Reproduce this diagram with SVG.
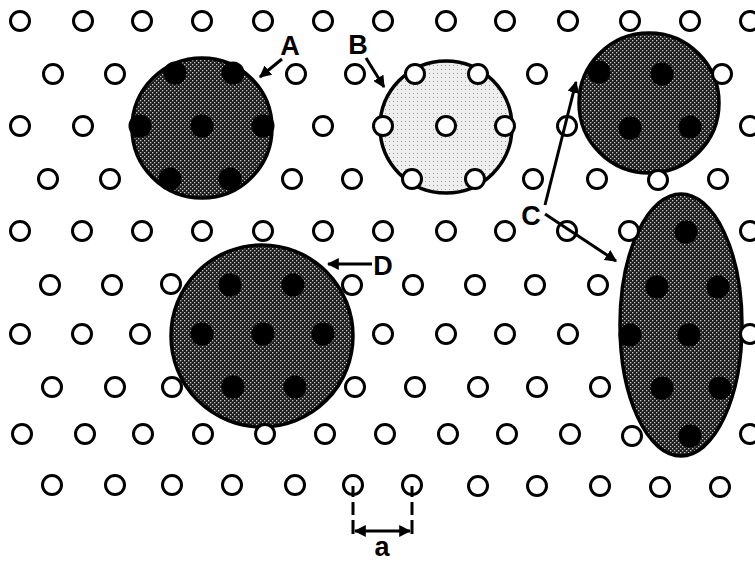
<svg xmlns="http://www.w3.org/2000/svg" width="755" height="561" viewBox="0 0 755 561">
<style>
.s{fill:#fff;stroke:#000;stroke-width:3}
.d{fill:#000}
.big{stroke:#000;stroke-width:3.5}
.lab{font-family:"Liberation Sans",Arial,sans-serif;font-weight:bold;font-size:27px;fill:#000}
.ln{stroke:#000;stroke-width:3;fill:none}
</style>
<defs>
<pattern id="dk" width="4" height="4" patternUnits="userSpaceOnUse">
<rect width="4" height="4" fill="#1c1c1c"/>
<rect x="0" y="0" width="1.3" height="1.3" fill="#c8c8c8"/>
<rect x="2" y="2" width="1.3" height="1.3" fill="#c8c8c8"/>
</pattern>
<pattern id="lt" width="4" height="4" patternUnits="userSpaceOnUse">
<rect width="4" height="4" fill="#eeeeee"/>
<rect x="1" y="1" width="1" height="1" fill="#9a9a9a"/>
</pattern>
<marker id="ah" viewBox="0 0 10 10" refX="9" refY="5" markerWidth="4" markerHeight="4" orient="auto-start-reverse" markerUnits="strokeWidth">
<path d="M0,0 L10,5 L0,10 z" fill="#000"/>
</marker>
</defs>
<rect width="755" height="561" fill="#fff"/>

<g id="shapes">
<g id="clusterA"><circle class="big" cx="202" cy="128" r="70" fill="url(#dk)"/></g>
<g id="clusterB"><circle class="big" cx="446" cy="127" r="66" fill="url(#lt)" stroke-width="4"/></g>
<g id="clusterC1"><circle class="big" cx="649" cy="103" r="70" fill="url(#dk)"/></g>
<g id="clusterC2"><ellipse class="big" cx="681" cy="325" rx="61" ry="131" fill="url(#dk)"/></g>
<g id="clusterD"><circle class="big" cx="262" cy="336" r="91" fill="url(#dk)"/></g>
</g>

<g id="filled">
<circle class="d" cx="175" cy="73" r="11.5"/><circle class="d" cx="233" cy="73" r="11.5"/>
<circle class="d" cx="140" cy="126" r="11.5"/><circle class="d" cx="202" cy="126" r="11.5"/><circle class="d" cx="263" cy="126" r="11.5"/>
<circle class="d" cx="170" cy="179" r="11.5"/><circle class="d" cx="230" cy="179" r="11.5"/>
<circle class="d" cx="599" cy="72" r="11.5"/><circle class="d" cx="662" cy="74" r="11.5"/>
<circle class="d" cx="630" cy="128" r="11.5"/><circle class="d" cx="690" cy="127" r="11.5"/>
<circle class="d" cx="686" cy="232" r="11.5"/>
<circle class="d" cx="657" cy="287" r="11.5"/><circle class="d" cx="718" cy="287" r="11.5"/>
<circle class="d" cx="630" cy="335" r="11.5"/><circle class="d" cx="689" cy="335" r="11.5"/>
<circle class="d" cx="662" cy="388" r="11.5"/><circle class="d" cx="720" cy="388" r="11.5"/>
<circle class="d" cx="690" cy="436" r="11.5"/>
<circle class="d" cx="230" cy="285" r="11.5"/><circle class="d" cx="293" cy="285" r="11.5"/>
<circle class="d" cx="202" cy="334" r="11.5"/><circle class="d" cx="263" cy="334" r="11.5"/><circle class="d" cx="323" cy="334" r="11.5"/>
<circle class="d" cx="233" cy="387" r="11.5"/><circle class="d" cx="295" cy="387" r="11.5"/>
</g>

<g id="lattice">
<circle class="s" cx="20" cy="21" r="9.5"/><circle class="s" cx="83" cy="21" r="9.5"/><circle class="s" cx="142" cy="21" r="9.5"/><circle class="s" cx="202" cy="21" r="9.5"/><circle class="s" cx="263" cy="21" r="9.5"/><circle class="s" cx="323" cy="21" r="9.5"/><circle class="s" cx="383" cy="21" r="9.5"/><circle class="s" cx="446" cy="21" r="9.5"/><circle class="s" cx="505" cy="21" r="9.5"/><circle class="s" cx="568" cy="21" r="9.5"/><circle class="s" cx="630" cy="21" r="9.5"/><circle class="s" cx="690" cy="21" r="9.5"/><circle class="s" cx="750" cy="21" r="9.5"/>

<circle class="s" cx="53" cy="74" r="9.5"/><circle class="s" cx="115" cy="74" r="9.5"/><circle class="s" cx="296" cy="74" r="9.5"/><circle class="s" cx="355" cy="74" r="9.5"/><circle class="s" cx="415" cy="74" r="9.5"/><circle class="s" cx="478" cy="74" r="9.5"/><circle class="s" cx="537" cy="74" r="9.5"/><circle class="s" cx="722" cy="74" r="9.5"/>

<circle class="s" cx="20" cy="126" r="9.5"/><circle class="s" cx="83" cy="126" r="9.5"/><circle class="s" cx="323" cy="126" r="9.5"/><circle class="s" cx="383" cy="126" r="9.5"/><circle class="s" cx="446" cy="126" r="9.5"/><circle class="s" cx="505" cy="126" r="9.5"/><circle class="s" cx="567" cy="126" r="9.5"/><circle class="s" cx="750" cy="126" r="9.5"/>

<circle class="s" cx="48" cy="179" r="9.5"/><circle class="s" cx="110" cy="179" r="9.5"/><circle class="s" cx="292" cy="179" r="9.5"/><circle class="s" cx="352" cy="179" r="9.5"/><circle class="s" cx="412" cy="179" r="9.5"/><circle class="s" cx="475" cy="179" r="9.5"/><circle class="s" cx="533" cy="179" r="9.5"/><circle class="s" cx="597" cy="179" r="9.5"/><circle class="s" cx="658" cy="180" r="9.5"/><circle class="s" cx="718" cy="179" r="9.5"/>

<circle class="s" cx="20" cy="231" r="9.5"/><circle class="s" cx="82" cy="231" r="9.5"/><circle class="s" cx="142" cy="231" r="9.5"/><circle class="s" cx="202" cy="231" r="9.5"/><circle class="s" cx="263" cy="231" r="9.5"/><circle class="s" cx="323" cy="231" r="9.5"/><circle class="s" cx="383" cy="231" r="9.5"/><circle class="s" cx="446" cy="231" r="9.5"/><circle class="s" cx="505" cy="231" r="9.5"/><circle class="s" cx="567" cy="231" r="9.5"/><circle class="s" cx="629" cy="231" r="9.5"/><circle class="s" cx="750" cy="231" r="9.5"/>

<circle class="s" cx="50" cy="285" r="9.5"/><circle class="s" cx="112" cy="285" r="9.5"/><circle class="s" cx="171" cy="284" r="9.5"/><circle class="s" cx="352" cy="285" r="9.5"/><circle class="s" cx="413" cy="285" r="9.5"/><circle class="s" cx="475" cy="285" r="9.5"/><circle class="s" cx="535" cy="285" r="9.5"/><circle class="s" cx="598" cy="285" r="9.5"/>

<circle class="s" cx="20" cy="334" r="9.5"/><circle class="s" cx="82" cy="334" r="9.5"/><circle class="s" cx="140" cy="334" r="9.5"/><circle class="s" cx="383" cy="334" r="9.5"/><circle class="s" cx="446" cy="334" r="9.5"/><circle class="s" cx="505" cy="334" r="9.5"/><circle class="s" cx="568" cy="334" r="9.5"/><circle class="s" cx="750" cy="334" r="9.5"/>

<circle class="s" cx="52" cy="387" r="9.5"/><circle class="s" cx="115" cy="387" r="9.5"/><circle class="s" cx="172" cy="387" r="9.5"/><circle class="s" cx="355" cy="387" r="9.5"/><circle class="s" cx="415" cy="387" r="9.5"/><circle class="s" cx="478" cy="387" r="9.5"/><circle class="s" cx="537" cy="387" r="9.5"/><circle class="s" cx="600" cy="387" r="9.5"/>

<circle class="s" cx="22" cy="434" r="9.5"/><circle class="s" cx="85" cy="434" r="9.5"/><circle class="s" cx="143" cy="434" r="9.5"/><circle class="s" cx="203" cy="434" r="9.5"/><circle class="s" cx="265" cy="434" r="9.5"/><circle class="s" cx="325" cy="434" r="9.5"/><circle class="s" cx="385" cy="434" r="9.5"/><circle class="s" cx="448" cy="434" r="9.5"/><circle class="s" cx="507" cy="434" r="9.5"/><circle class="s" cx="570" cy="434" r="9.5"/><circle class="s" cx="632" cy="436" r="9.5"/><circle class="s" cx="750" cy="434" r="9.5"/>

<circle class="s" cx="52" cy="485" r="9.5"/><circle class="s" cx="115" cy="485" r="9.5"/><circle class="s" cx="172" cy="485" r="9.5"/><circle class="s" cx="232" cy="485" r="9.5"/><circle class="s" cx="295" cy="485" r="9.5"/><circle class="s" cx="353" cy="485" r="9.5"/><circle class="s" cx="412" cy="485" r="9.5"/><circle class="s" cx="478" cy="486" r="9.5"/><circle class="s" cx="537" cy="486" r="9.5"/><circle class="s" cx="600" cy="486" r="9.5"/><circle class="s" cx="660" cy="487" r="9.5"/><circle class="s" cx="720" cy="487" r="9.5"/>
</g>

<g id="connectors">
<line class="ln" x1="282" y1="59" x2="260" y2="77" marker-end="url(#ah)"/>
<line class="ln" x1="366" y1="58" x2="384" y2="87" marker-end="url(#ah)"/>
<line class="ln" x1="545" y1="205" x2="576" y2="82" marker-end="url(#ah)"/>
<line class="ln" x1="545" y1="214" x2="616" y2="261" marker-end="url(#ah)"/>
<line class="ln" x1="372" y1="264" x2="328" y2="264" marker-end="url(#ah)"/>
<path class="ln" d="M353 486 V497 M353 502 V515 M353 520 V534 M412 486 V497 M412 502 V515 M412 520 V534"/>
<line class="ln" x1="355" y1="531" x2="410" y2="531" marker-start="url(#ah)" marker-end="url(#ah)"/>
</g>

<g id="labels">
<text class="lab" x="290" y="55" text-anchor="middle">A</text>
<text class="lab" x="358" y="54" text-anchor="middle">B</text>
<text class="lab" x="531" y="225" text-anchor="middle">C</text>
<text class="lab" x="383" y="275" text-anchor="middle">D</text>
<text class="lab" x="382" y="556" text-anchor="middle" font-size="25">a</text>
</g>
</svg>
